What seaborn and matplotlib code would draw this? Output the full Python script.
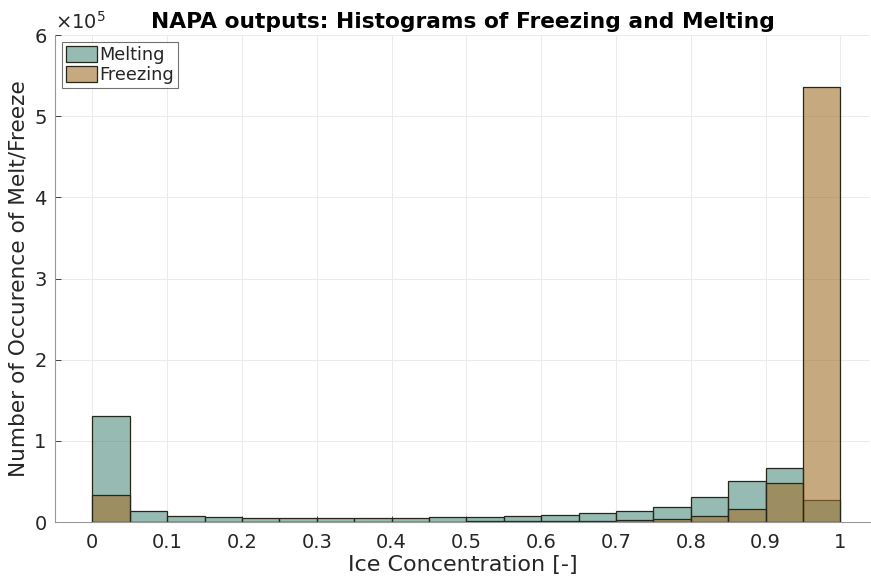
import numpy as np
import pandas as pd
import matplotlib
matplotlib.use("Agg")
import matplotlib.pyplot as plt
import seaborn as sns

bin_edges = [round(i * 0.05, 2) for i in range(21)]
melting = [1.31e5, 0.136e5, 0.080e5, 0.062e5, 0.055e5, 0.052e5, 0.047e5, 0.047e5, 0.054e5, 0.060e5,
           0.066e5, 0.074e5, 0.090e5, 0.110e5, 0.137e5, 0.19e5, 0.31e5, 0.505e5, 0.67e5, 0.277e5]
freezing = [0.338e5, 0.006e5, 0.004e5, 0.003e5, 0.003e5, 0.003e5, 0.003e5, 0.004e5, 0.005e5, 0.006e5,
            0.008e5, 0.010e5, 0.013e5, 0.018e5, 0.025e5, 0.04e5, 0.07e5, 0.157e5, 0.486e5, 5.36e5]
xticks = [0, 0.1, 0.2, 0.3, 0.4, 0.5, 0.6, 0.7, 0.8, 0.9, 1]
xticklabels = ["0", "0.1", "0.2", "0.3", "0.4", "0.5", "0.6", "0.7", "0.8", "0.9", "1"]
yticks = [0, 1, 2, 3, 4, 5, 6]

centers = [(bin_edges[i] + bin_edges[i + 1]) / 2 for i in range(20)]
df = pd.DataFrame({
    "conc": centers * 2,
    "count": melting + freezing,
    "kind": ["Melting"] * 20 + ["Freezing"] * 20,
})

sns.set_style("white")
plt.rcParams['font.family'] = ['DejaVu Sans']

fig = plt.figure(figsize=(8.71, 5.77), dpi=100)
ax = fig.add_axes([0.0631, 0.0953, 0.936, 0.844])

colors = {"Melting": (80/255, 142/255, 127/255), "Freezing": (163/255, 113/255, 43/255)}
for kind in ["Melting", "Freezing"]:
    sub = df[df["kind"] == kind]
    sns.histplot(x=sub["conc"], weights=sub["count"], bins=bin_edges, ax=ax,
                 color=colors[kind], alpha=0.6, edgecolor=(0.15, 0.15, 0.1), linewidth=0.9,
                 label=kind, stat="count")

tc = (0.15, 0.15, 0.15)
ax.set_xlim(-0.05, 1.04)
ax.set_ylim(0, 6e5)
ax.set_xticks(xticks)
ax.set_xticklabels(xticklabels)
ax.set_yticks([v * 1e5 for v in yticks])
ax.set_yticklabels([str(v) for v in yticks])
ax.tick_params(axis="both", labelsize=14, colors=tc, length=4, direction="in",
               left=True, bottom=True, width=0.6)
ax.tick_params(axis="x", pad=8)
ax.tick_params(axis="y", pad=6)
ax.grid(True, color=(0.92, 0.92, 0.92), linewidth=0.7)
ax.set_axisbelow(True)
for s in ["top", "right"]:
    ax.spines[s].set_visible(False)
for s in ["left", "bottom"]:
    ax.spines[s].set_color((0.6, 0.6, 0.6))
    ax.spines[s].set_linewidth(0.8)

ax.set_xlabel("Ice Concentration [-]", fontsize=16, color=tc, labelpad=2)
ax.set_ylabel("Number of Occurence of Melt/Freeze", fontsize=15.6, color=tc, labelpad=4)
ax.set_title("NAPA outputs: Histograms of Freezing and Melting", fontsize=15.7, fontweight="bold",
             color="black", pad=5)
ax.text(0.0, 1.005, r"$\times10^5$", transform=ax.transAxes, fontsize=14, color=tc,
        ha="left", va="bottom")

leg = ax.legend(loc="upper left", fontsize=12.8, frameon=True, fancybox=False, borderpad=0.2,
                handlelength=1.75, handleheight=1.05, handletextpad=0.15, labelspacing=0.1,
                borderaxespad=0.4)
leg.get_frame().set_edgecolor((0.3, 0.3, 0.3))
leg.get_frame().set_linewidth(0.8)

fig.savefig("out.png", dpi=100)
